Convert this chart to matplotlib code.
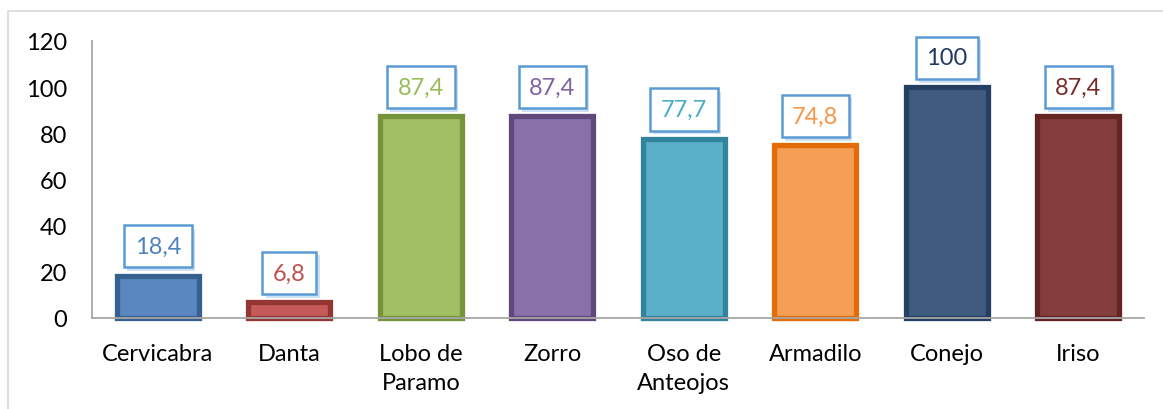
import matplotlib
matplotlib.use("Agg")
from matplotlib import pyplot as plt
from matplotlib.patches import Rectangle
from matplotlib import patheffects

# data
species = ["Cervicabra", "Danta", "Lobo de\nParamo", "Zorro", "Oso de\nAnteojos",
           "Armadilo", "Conejo", "Iriso"]
values = [18.4, 6.8, 87.4, 87.4, 77.7, 74.8, 100, 87.4]
value_labels = ["18,4", "6,8", "87,4", "87,4", "77,7", "74,8", "100", "87,4"]

fill_colors = ["#5B87C0", "#C55A59", "#A2BF63", "#8A70A8", "#5BB0C9",
               "#F59E55", "#3F5C80", "#843D3C"]
edge_colors = ["#36608F", "#943634", "#77933C", "#5F497A", "#31849B",
               "#E36C09", "#243F60", "#632423"]
text_colors = ["#4F81BD", "#C0504D", "#9BBB59", "#8064A2", "#4BACC6",
               "#F79646", "#1F3864", "#772C2A"]

plt.rcParams['font.family'] = ['Lato', 'DejaVu Sans']

fig = plt.figure(figsize=(11.63, 4.10), dpi=100)
ax = fig.add_axes([92/1163, 91/410, (1144-92)/1163, 277/410])

# outer light frame of the chart
fig.patches.append(Rectangle((8/1163, -0.1), 1.2, (410-12)/410 + 0.1,
                             transform=fig.transFigure, fill=False,
                             edgecolor="#D9D9D9", linewidth=1.2))

x = list(range(len(species)))
ax.bar(x, values, width=0.62, color=fill_colors, edgecolor=edge_colors,
       linewidth=3.8, zorder=3, clip_on=False)

shadow = [patheffects.SimplePatchShadow(offset=(2.5, -2.5), shadow_rgbFace="#BCD4EE",
                                        alpha=0.7),
          patheffects.Normal()]
for i in x:
    t = ax.annotate(value_labels[i], (i, values[i]), xytext=(0, 13.5),
                    textcoords="offset points", ha="center", va="bottom",
                    fontsize=17, color=text_colors[i], zorder=5,
                    bbox=dict(boxstyle="square,pad=0.45", fc="white",
                              ec="#5B9BD5", lw=1.8))
    t.get_bbox_patch().set_path_effects(shadow)

ax.set_xlim(-0.5, len(species) - 0.5)
ax.set_ylim(0, 120)
ax.set_yticks([0, 20, 40, 60, 80, 100, 120])
ax.set_xticks(x)
ax.set_xticklabels(species, linespacing=1.5)
ax.tick_params(axis="y", length=0, pad=18, labelsize=17)
ax.tick_params(axis="x", length=0, pad=18, labelsize=17)

for side in ["top", "right"]:
    ax.spines[side].set_visible(False)
for side in ["left", "bottom"]:
    ax.spines[side].set_color("#A6A6A6")
    ax.spines[side].set_linewidth(1.3)
ax.spines["bottom"].set_zorder(6)

plt.savefig("out.png", dpi=100)
